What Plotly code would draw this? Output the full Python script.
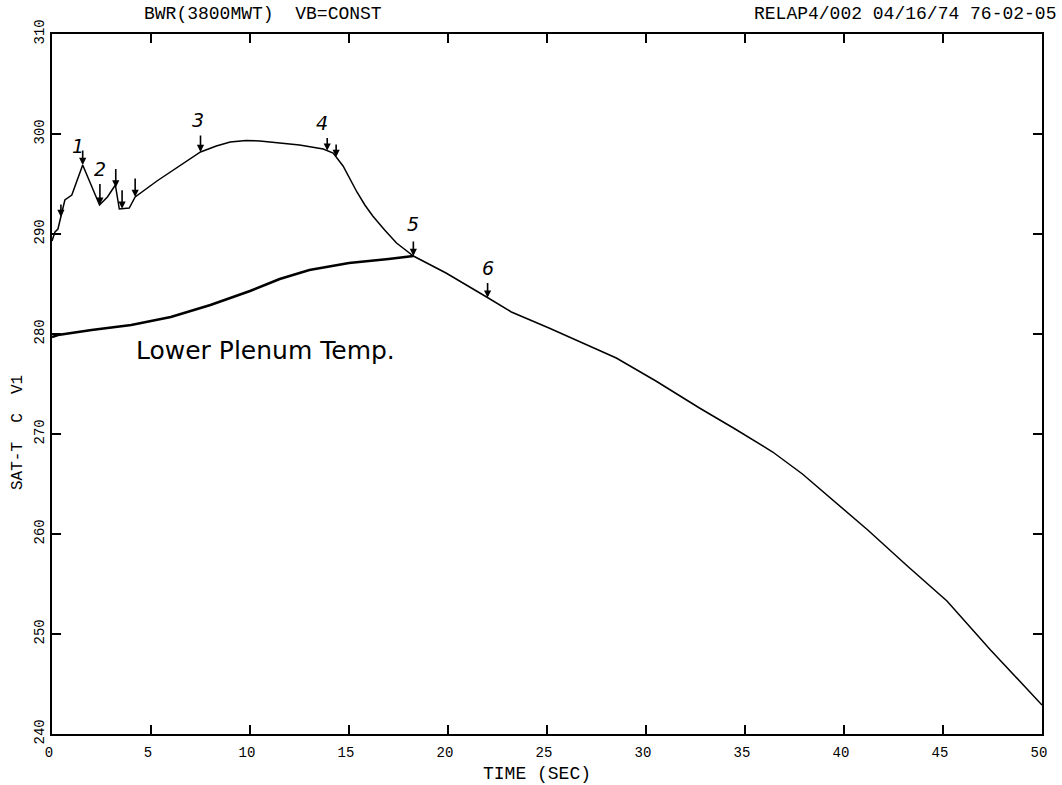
import numpy as np
import plotly.graph_objects as go

# Saturation temperature in volume 1 (deg C) vs time (s)
sat_time = [0, 0.15, 0.3, 0.45, 0.65, 1.0, 1.55, 2.4, 2.8, 3.2, 3.4, 3.9, 4.2,
            5.3, 6.5, 7.5, 8.3, 9.0, 9.8, 10.5, 11.5, 12.5, 13.7, 14.2, 14.7,
            15.05, 15.4, 15.8, 16.2, 16.8, 17.4, 18.25, 19.9, 21.95, 23.2, 25.1,
            28.5, 30.5, 32.7, 34.5, 36.4, 37.9, 39.3, 41.2, 43.2, 45.2, 47.4, 50]
sat_temp = [289.3, 290.2, 290.5, 291.7, 293.4, 293.9, 296.9, 292.9, 293.7, 294.9,
            292.5, 292.6, 293.7, 295.3, 296.9, 298.2, 298.8, 299.2, 299.35, 299.3,
            299.1, 298.9, 298.5, 298.1, 296.8, 295.5, 294.2, 292.9, 291.8, 290.4,
            289.1, 287.8, 286.1, 283.7, 282.2, 280.6, 277.6, 275.3, 272.6, 270.5,
            268.2, 266.0, 263.6, 260.4, 256.8, 253.3, 248.4, 242.9]

# Lower plenum liquid temperature until it meets saturation
lp_time = [0, 0.3, 2, 4, 6, 8, 10, 11.5, 13, 15, 17, 18.25]
lp_temp = [279.7, 279.9, 280.4, 280.9, 281.7, 282.9, 284.3, 285.5, 286.4, 287.1, 287.5, 287.8]

# Event markers along the saturation curve: (time, label)
event_times = [0.45, 1.55, 2.42, 3.22, 3.54, 4.2, 7.5, 13.9, 14.35, 18.25, 22.0]
event_labels = ["", "1", "2", "", "", "", "3", "4", "", "5", "6"]

x_ticks = [0, 5, 10, 15, 20, 25, 30, 35, 40, 45, 50]
y_ticks = [240, 250, 260, 270, 280, 290, 300, 310]

plot_font = "Liberation Mono"
hand_font = "DejaVu Sans"

fig = go.Figure()
fig.add_trace(go.Scatter(x=sat_time, y=sat_temp, mode="lines",
                         line=dict(color="black", width=1.5), showlegend=False))
fig.add_trace(go.Scatter(x=lp_time, y=lp_temp, mode="lines",
                         line=dict(color="black", width=2.6), showlegend=False))

annotations = []
# arrow tail offsets (pixels) and label offsets relative to the tip
arrow_len = [-14, -16, -22, -20, -20, -20, -18, -14, -14, -16, -16]
label_dx = [0, -5, 0, 0, 0, 0, -3, -5, 0, 0, 0]
label_dy = [0, 19, 36, 0, 0, 0, 32, 28, 0, 32, 30]
for t, lab, al, dx, dy in zip(event_times, event_labels, arrow_len, label_dx, label_dy):
    yv = float(np.interp(t, sat_time, sat_temp))
    annotations.append(dict(x=t, y=yv, xref="x", yref="y", text="", showarrow=True,
                            ax=0, ay=al, arrowhead=2, arrowsize=0.9, arrowwidth=1.6,
                            arrowcolor="black", standoff=0))
    if lab:
        annotations.append(dict(x=t, y=yv, xref="x", yref="y", text=lab, showarrow=False,
                                xshift=dx, yshift=dy, yanchor="middle",
                                font=dict(family=hand_font, size=19, color="black",
                                          style="italic")))

annotations += [
    dict(x=10.8, y=278.4, xref="x", yref="y", text="Lower Plenum Temp.", showarrow=False,
         font=dict(family=hand_font, size=25, color="black")),
    dict(x=0.213, y=1, xref="paper", yref="paper", text="BWR(3800MWT)  VB=CONST",
         showarrow=False, xanchor="center", yanchor="middle", yshift=20,
         font=dict(family=plot_font, size=18, color="black")),
    dict(x=1, y=1, xref="paper", yref="paper", text="RELAP4/002 04/16/74 76-02-05",
         showarrow=False, xanchor="right", yanchor="middle", yshift=20, xshift=16,
         font=dict(family=plot_font, size=18, color="black")),
    dict(x=0.49, y=0, xref="paper", yref="paper", text="TIME (SEC)", showarrow=False,
         xanchor="center", yanchor="middle", yshift=-40,
         font=dict(family=plot_font, size=18, color="black")),
    dict(x=0, y=0.43, xref="paper", yref="paper", text="SAT-T  C  V1", showarrow=False,
         textangle=-90, xanchor="center", xshift=-34,
         font=dict(family=plot_font, size=16, color="black")),
]

axis_common = dict(showgrid=False, zeroline=False, showline=True, linecolor="black",
                   linewidth=2, mirror="ticks", ticks="inside", ticklen=9,
                   tickwidth=1.5, tickcolor="black",
                   tickfont=dict(family=plot_font, size=14, color="black"))

fig.update_layout(
    width=1062, height=785,
    margin=dict(l=52, r=20, t=34, b=51),
    paper_bgcolor="white", plot_bgcolor="white",
    xaxis=dict(range=[0, 50], tickvals=x_ticks, ticktext=[str(v) for v in x_ticks],
               ticklabelstandoff=4, ticklabelshift=-3, **axis_common),
    yaxis=dict(range=[240, 310], tickvals=y_ticks, ticktext=[str(v) for v in y_ticks],
               tickangle=-90, **axis_common),
    annotations=annotations,
)

fig.write_html("out.html")
